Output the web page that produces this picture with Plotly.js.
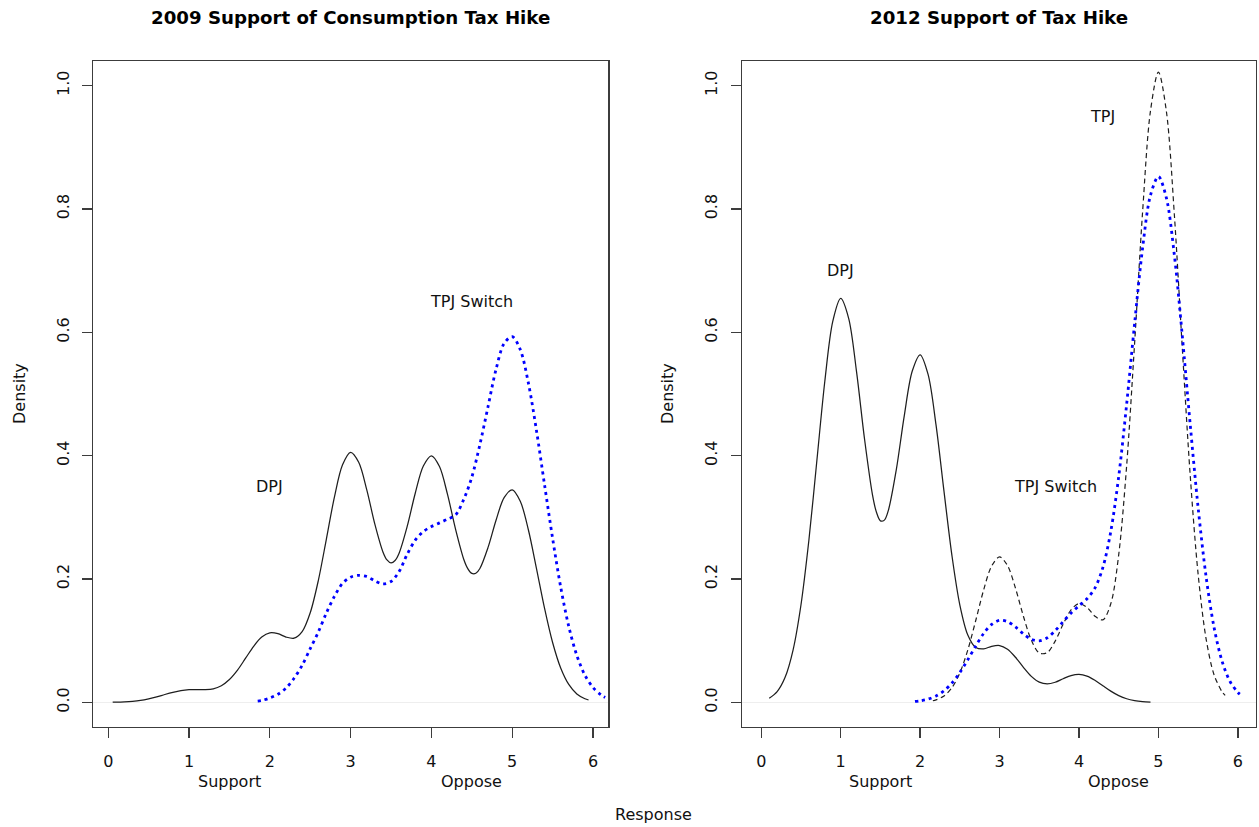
<!DOCTYPE html>
<html>
<head>
<meta charset="utf-8">
<script src="https://cdn.plot.ly/plotly-3.0.1.min.js"></script>
<style>
  html, body { margin: 0; padding: 0; background: #ffffff; }
  #chart { width: 1259px; height: 827px; }
</style>
</head>
<body>
<div id="chart"></div>
<script>
// ---------------- data ----------------
const panelTitles = ['2009 Support of Consumption Tax Hike', '2012 Support of Tax Hike'];
const xTickVals = [0, 1, 2, 3, 4, 5, 6];
const yTickVals = [0.0, 0.2, 0.4, 0.6, 0.8, 1.0];
const scaleEndLabels = ['Support', 'Oppose'];
const scaleEndPos = [1.5, 4.5];
const xTitle = 'Response';
const yTitle = 'Density';

// 2009 panel: DPJ (solid black)
const dpj2009X = [0.055, 0.1, 0.2, 0.3, 0.4, 0.5, 0.6, 0.7, 0.8, 0.9, 1.0, 1.1, 1.2, 1.3, 1.4, 1.5, 1.6, 1.7, 1.8, 1.9,
  2.0, 2.1, 2.2, 2.3, 2.4, 2.5, 2.6, 2.7, 2.8, 2.9, 3.0, 3.1, 3.2, 3.3, 3.4, 3.45, 3.5, 3.55, 3.6, 3.7, 3.8, 3.9,
  4.0, 4.1, 4.2, 4.3, 4.4, 4.45, 4.5, 4.55, 4.6, 4.7, 4.8, 4.9, 5.0, 5.1, 5.2, 5.3, 5.4, 5.5, 5.6, 5.7, 5.8, 5.9, 5.945];
const dpj2009Y = [0.0002, 0.0003, 0.0008, 0.0017, 0.0032, 0.0057, 0.0089, 0.0127, 0.0162, 0.0190, 0.0205, 0.0208, 0.0207, 0.0220, 0.0270, 0.0370, 0.0522, 0.0716, 0.0909, 0.1058,
  0.1127, 0.1114, 0.1059, 0.1040, 0.1146, 0.1452, 0.1974, 0.2648, 0.3333, 0.3851, 0.4053, 0.3892, 0.3444, 0.2889, 0.2439, 0.2309, 0.2261, 0.2300, 0.2419, 0.2852, 0.3391, 0.3832,
  0.3998, 0.3823, 0.3368, 0.2801, 0.2321, 0.2169, 0.2091, 0.2093, 0.2171, 0.2508, 0.2953, 0.3319, 0.3446, 0.3261, 0.2799, 0.2174, 0.1527, 0.0970, 0.0557, 0.0290, 0.0136, 0.0058, 0.0038];

// 2009 panel: TPJ Switch (dotted blue)
const switch2009X = [1.85, 1.9, 2.0, 2.1, 2.2, 2.3, 2.4, 2.5, 2.6, 2.7, 2.8, 2.9, 3.0, 3.1, 3.2, 3.3, 3.4, 3.5, 3.6, 3.7, 3.8, 3.9,
  4.0, 4.1, 4.2, 4.3, 4.4, 4.5, 4.6, 4.7, 4.8, 4.9, 5.0, 5.1, 5.2, 5.3, 5.4, 5.5, 5.6, 5.7, 5.8, 5.9, 6.0, 6.1, 6.15];
const switch2009Y = [0.002, 0.003, 0.007, 0.013, 0.023, 0.039, 0.060, 0.087, 0.114, 0.145, 0.172, 0.193, 0.203, 0.206, 0.204, 0.197, 0.192, 0.196, 0.212, 0.240, 0.263, 0.277,
  0.285, 0.291, 0.297, 0.304, 0.329, 0.365, 0.418, 0.479, 0.540, 0.582, 0.593, 0.572, 0.518, 0.441, 0.353, 0.266, 0.187, 0.123, 0.076, 0.044, 0.024, 0.012, 0.008];

// 2012 panel: DPJ (solid black)
const dpj2012X = [0.1, 0.2, 0.3, 0.4, 0.5, 0.6, 0.7, 0.8, 0.9, 1.0, 1.1, 1.2, 1.3, 1.4, 1.45, 1.5, 1.55, 1.6, 1.7, 1.8, 1.9,
  2.0, 2.1, 2.2, 2.3, 2.4, 2.5, 2.6, 2.7, 2.8, 2.9, 3.0, 3.1, 3.2, 3.3, 3.4, 3.5, 3.6, 3.7, 3.8, 3.9,
  4.0, 4.1, 4.2, 4.3, 4.4, 4.5, 4.6, 4.7, 4.8, 4.9];
const dpj2012Y = [0.0066, 0.0174, 0.0406, 0.0848, 0.1583, 0.2636, 0.3921, 0.5207, 0.6176, 0.6549, 0.6227, 0.5354, 0.4270, 0.3365, 0.3082, 0.2943, 0.2955, 0.3113, 0.3774, 0.4646, 0.5368,
  0.5636, 0.5317, 0.4498, 0.3424, 0.2382, 0.1578, 0.1092, 0.0889, 0.0866, 0.0908, 0.0921, 0.0861, 0.0731, 0.0568, 0.0421, 0.0327, 0.0299, 0.0326, 0.0383, 0.0434,
  0.0453, 0.0426, 0.0359, 0.0270, 0.0182, 0.0109, 0.0058, 0.0028, 0.0012, 0.0005];

// 2012 panel: TPJ (dashed black)
const tpj2012X = [2.16, 2.2, 2.3, 2.4, 2.5, 2.6, 2.7, 2.8, 2.9, 3.0, 3.1, 3.2, 3.3, 3.4, 3.5, 3.6, 3.7, 3.8, 3.9,
  4.0, 4.1, 4.2, 4.3, 4.4, 4.5, 4.6, 4.7, 4.8, 4.9, 5.0, 5.1, 5.2, 5.3, 5.4, 5.5, 5.6, 5.7, 5.8, 5.84];
const tpj2012Y = [0.0026, 0.0040, 0.0103, 0.0237, 0.0478, 0.0849, 0.1327, 0.1825, 0.2210, 0.2358, 0.2218, 0.1852, 0.1396, 0.1008, 0.0799, 0.0806, 0.0993, 0.1265, 0.1500,
  0.1601, 0.1541, 0.1397, 0.1338, 0.1598, 0.2395, 0.3840, 0.5823, 0.7942, 0.9593, 1.0218, 0.9585, 0.7915, 0.5754, 0.3681, 0.2074, 0.1029, 0.0448, 0.0173, 0.0113];

// 2012 panel: TPJ Switch (dotted blue)
const switch2012X = [1.935, 2.0, 2.1, 2.2, 2.3, 2.4, 2.5, 2.6, 2.7, 2.8, 2.9, 3.0, 3.1, 3.2, 3.3, 3.4, 3.5, 3.6, 3.7, 3.8, 3.9,
  4.0, 4.1, 4.2, 4.3, 4.4, 4.5, 4.6, 4.7, 4.8, 4.9, 5.0, 5.1, 5.2, 5.3, 5.4, 5.5, 5.6, 5.7, 5.8, 5.9, 6.0, 6.065];
const switch2012Y = [0.0014, 0.0025, 0.0052, 0.0103, 0.0187, 0.0312, 0.0484, 0.0692, 0.0914, 0.1118, 0.1264, 0.1330, 0.1308, 0.1222, 0.1109, 0.1022, 0.0997, 0.1047, 0.1163, 0.1308, 0.1448,
  0.1566, 0.1679, 0.1852, 0.2184, 0.2769, 0.3664, 0.4836, 0.6144, 0.7361, 0.8224, 0.8526, 0.8180, 0.7257, 0.5949, 0.4506, 0.3152, 0.2037, 0.1216, 0.0671, 0.0342, 0.0161, 0.0094];

// in-plot labels
const labels2009 = [{text: 'DPJ', x: 2.0, y: 0.35}, {text: 'TPJ Switch', x: 4.5, y: 0.65}];
const labels2012 = [{text: 'DPJ', x: 1.0, y: 0.70}, {text: 'TPJ', x: 4.3, y: 0.95}, {text: 'TPJ Switch', x: 3.7, y: 0.35}];

// ---------------- styling ----------------
const FONT = 'DejaVu Sans, Liberation Sans, Arial, sans-serif';
const AXC = '#3c3c3c';
const BLACKLINE = '#1e1e1e';
const BLUE = '#0000ff';

const solid = {color: BLACKLINE, width: 1.25, shape: 'spline', smoothing: 0.9};
const dashed = {color: BLACKLINE, width: 1.2, dash: '5px,3.5px', shape: 'spline', smoothing: 0.9};
const dotted = {color: BLUE, width: 2.8, dash: '3px,4px', shape: 'spline', smoothing: 0.9};

function tr(x, y, line, xa, ya) {
  return {x: x, y: y, type: 'scatter', mode: 'lines', line: line, xaxis: xa, yaxis: ya,
          hoverinfo: 'skip', showlegend: false};
}

const data = [
  tr(dpj2009X, dpj2009Y, solid, 'x', 'y'),
  tr(switch2009X, switch2009Y, dotted, 'x', 'y'),
  tr(dpj2012X, dpj2012Y, solid, 'x2', 'y2'),
  tr(tpj2012X, tpj2012Y, dashed, 'x2', 'y2'),
  tr(switch2012X, switch2012Y, dotted, 'x2', 'y2')
];

function xAxis(domain, range, anchor) {
  return {
    domain: domain, range: range, anchor: anchor,
    showline: true, mirror: true, linecolor: AXC, linewidth: 1.3,
    ticks: 'outside', ticklen: 10, tickwidth: 1.3, tickcolor: AXC,
    tickvals: xTickVals, ticktext: xTickVals.map(String),
    tickfont: {family: FONT, size: 16, color: '#111'},
    ticklabelstandoff: 9,
    showgrid: false, zeroline: false, fixedrange: true
  };
}
function yAxis(range, anchor) {
  return {
    domain: [0, 1], range: range, anchor: anchor,
    showline: true, mirror: true, linecolor: AXC, linewidth: 1.3,
    ticks: 'outside', ticklen: 10, tickwidth: 1.3, tickcolor: AXC,
    tickvals: yTickVals, tickformat: '.1f', tickangle: -90,
    tickfont: {family: FONT, size: 16, color: '#111'},
    ticklabelstandoff: 7,
    showgrid: false, zeroline: true, zerolinecolor: '#eeeeee', zerolinewidth: 1, fixedrange: true
  };
}

const annotations = [];
const titleX = [0.2786, 0.7935];
panelTitles.forEach((t, i) => {
  annotations.push({text: t, xref: 'paper', yref: 'paper', x: titleX[i], y: 1.066,
    xanchor: 'center', yanchor: 'middle', showarrow: false,
    font: {family: FONT, size: 18.2, weight: 'bold', color: '#000'}});
});
['x', 'x2'].forEach((xa) => {
  scaleEndLabels.forEach((t, j) => {
    annotations.push({text: t, xref: xa, yref: 'paper', x: scaleEndPos[j], y: -0.082,
      xanchor: 'center', yanchor: 'middle', showarrow: false,
      font: {family: FONT, size: 16, color: '#111'}});
  });
});
annotations.push({text: xTitle, xref: 'paper', yref: 'paper', x: 0.519, y: -0.132,
  xanchor: 'center', yanchor: 'middle', showarrow: false, font: {family: FONT, size: 16, color: '#111'}});
[0.0151, 0.5298].forEach((px) => {
  annotations.push({text: yTitle, xref: 'paper', yref: 'paper', x: px, y: 0.5, textangle: -90,
    xanchor: 'center', yanchor: 'middle', showarrow: false, font: {family: FONT, size: 16, color: '#111'}});
});
labels2009.forEach((l) => annotations.push({text: l.text, x: l.x, y: l.y, xref: 'x', yref: 'y',
  showarrow: false, xanchor: 'center', yanchor: 'middle', font: {family: FONT, size: 16, color: '#111'}}));
labels2012.forEach((l) => annotations.push({text: l.text, x: l.x, y: l.y, xref: 'x2', yref: 'y2',
  showarrow: false, xanchor: 'center', yanchor: 'middle', font: {family: FONT, size: 16, color: '#111'}}));

const layout = {
  width: 1259, height: 827,
  margin: {l: 0, r: 0, t: 61, b: 100, pad: 0},
  paper_bgcolor: '#ffffff', plot_bgcolor: '#ffffff',
  showlegend: false,
  xaxis: xAxis([0.0741, 0.4832], [-0.185, 6.19], 'y'),
  yaxis: yAxis([-0.04, 1.04], 'x'),
  xaxis2: xAxis([0.5894, 0.9976], [-0.242, 6.228], 'y2'),
  yaxis2: yAxis([-0.04, 1.04], 'x2'),
  annotations: annotations
};

Plotly.newPlot('chart', data, layout, {staticPlot: true, displayModeBar: false});
</script>
</body>
</html>
